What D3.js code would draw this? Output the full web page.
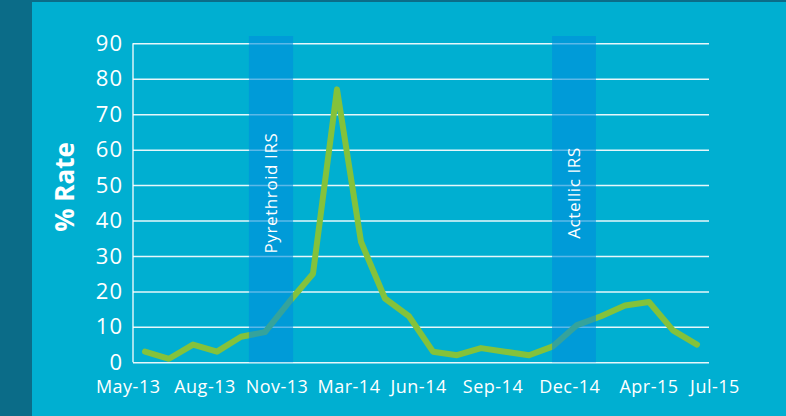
<!DOCTYPE html>
<html>
<head>
<meta charset="utf-8">
<script src="https://cdn.jsdelivr.net/npm/d3@7"></script>
<style>
  html, body { margin: 0; padding: 0; background: #0b6c88; }
  svg { display: block; }
  text { font-family: "Open Sans", "Noto Sans", sans-serif; }
</style>
</head>
<body>
<svg id="chart" width="786" height="416"></svg>
<script>
// ---- data ----
const values = [3, 1, 5, 3, 7.2, 8.5, 17, 25, 77, 34, 18, 13, 3, 2, 4, 3, 2, 4.5, 10.5, 13, 16, 17, 9, 5];
const tickLabels = ["May-13", "Aug-13", "Nov-13", "Mar-14", "Jun-14", "Sep-14", "Dec-14", "Apr-15", "Jul-15"];
const tickIndex = [-0.7, 2.5, 5.5, 8.5, 11.4, 14.5, 17.7, 21.0, 23.75];
const yTicks = [0, 10, 20, 30, 40, 50, 60, 70, 80, 90];
const bandLabels = ["Pyrethroid IRS", "Actellic IRS"];
const bandStart = [4.33, 16.96];
const bandEnd = [6.17, 18.79];
const yTitle = "% Rate";

// ---- layout ----
const svg = d3.select("#chart");
const W = 786, H = 416;
const mLeft = 133, mRight = 709, mTop = 43.3, mBottom = 362.3;

// background
svg.append("rect").attr("x", 0).attr("y", 0).attr("width", W).attr("height", H).attr("fill", "#0b6c88");
svg.append("rect").attr("x", 32).attr("y", 2).attr("width", W - 32).attr("height", H - 2).attr("fill", "#00afd1");

const x = d3.scaleLinear().domain([-0.5, values.length - 0.5]).range([mLeft, mRight]);
const y = d3.scaleLinear().domain([0, 90]).range([mBottom, mTop]);

// gridlines
const yAxis = d3.axisLeft(y).tickValues(yTicks).tickSize(-(mRight - mLeft)).tickPadding(10);
const gy = svg.append("g").attr("transform", `translate(${mLeft},0)`).call(yAxis);
gy.select(".domain").remove();
gy.selectAll(".tick line").attr("stroke", "#ffffff").attr("stroke-opacity", 0.9).attr("stroke-width", 1.5);
gy.selectAll(".tick text").attr("fill", "#ffffff").attr("font-size", 22).attr("x", -10)
  .attr("letter-spacing", 1)
  .style("font-family", "'Open Sans', sans-serif");

// y axis line
svg.append("line").attr("x1", mLeft).attr("x2", mLeft).attr("y1", y(90)).attr("y2", y(0))
  .attr("stroke", "#ffffff").attr("stroke-opacity", 0.85).attr("stroke-width", 1.5);

// line
const line = d3.line().x((d, i) => x(i)).y(d => y(d));
svg.append("path").datum(values).attr("d", line)
  .attr("fill", "none").attr("stroke", "#84c23b").attr("stroke-width", 6)
  .attr("stroke-linejoin", "round").attr("stroke-linecap", "round");

// IRS bands (drawn on top, semi-transparent)
bandLabels.forEach((lab, k) => {
  const x0 = x(bandStart[k]), x1 = x(bandEnd[k]);
  svg.append("rect").attr("x", x0).attr("y", 36).attr("width", x1 - x0).attr("height", y(0) - 36)
    .attr("fill", "rgb(0,142,220)").attr("fill-opacity", 0.6);
  const cx = (x0 + x1) / 2 + 6, cy = 193;
  svg.append("text").attr("transform", `translate(${cx},${cy}) rotate(-90)`)
    .attr("text-anchor", "middle").attr("fill", "#ffffff").attr("font-size", 17)
    .attr("font-weight", 400).attr("letter-spacing", 0.6)
    .style("font-family", "'Open Sans', sans-serif")
    .text(lab);
});

// x tick labels
svg.append("g").selectAll("text").data(tickLabels).join("text")
  .attr("x", (d, i) => x(tickIndex[i])).attr("y", 393)
  .attr("text-anchor", "middle").attr("fill", "#ffffff").attr("font-size", 18)
  .attr("letter-spacing", 0.5)
  .style("font-family", "'Open Sans', sans-serif")
  .text(d => d);

// y title
svg.append("text").attr("transform", `translate(74,187) rotate(-90)`)
  .attr("text-anchor", "middle").attr("fill", "#ffffff").attr("font-size", 26).attr("font-weight", 700)
  .style("font-family", "'Open Sans', sans-serif")
  .text(yTitle);
</script>
</body>
</html>
